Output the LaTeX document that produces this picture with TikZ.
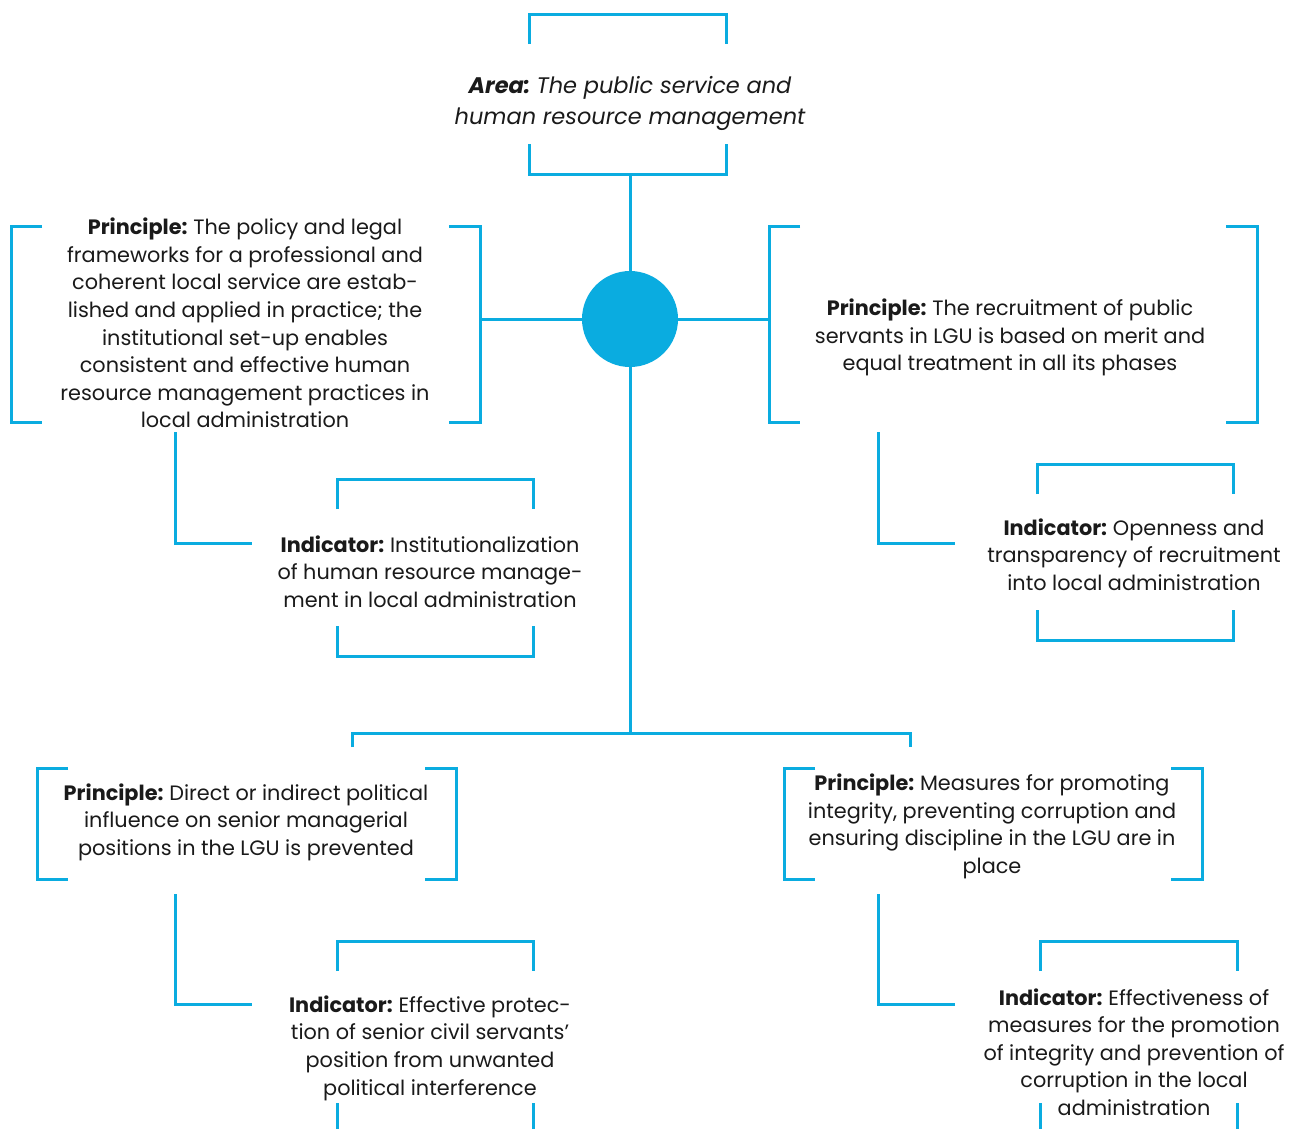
\documentclass[tikz,border=0pt]{standalone}
\usepackage{fontspec}
\setmainfont{Poppins}
\usetikzlibrary{calc}
\definecolor{brand}{HTML}{0AACE0}
\definecolor{ink}{HTML}{1A1A1A}

% bracket pairs drawn on the sides (left/right) or caps (top/bottom) of an empty frame node
\newcommand\sidebrackets[2]{%
  \draw[rule] ([xshift=#2]#1.north west) -- (#1.north west) -- (#1.south west) -- ([xshift=#2]#1.south west);
  \draw[rule] ([xshift=-#2]#1.north east) -- (#1.north east) -- (#1.south east) -- ([xshift=-#2]#1.south east);}
\newcommand\capbrackets[2]{%
  \draw[rule] ([yshift=-#2]#1.north west) -- (#1.north west) -- (#1.north east) -- ([yshift=-#2]#1.north east);
  \draw[rule] ([yshift=#2]#1.south west) -- (#1.south west) -- (#1.south east) -- ([yshift=#2]#1.south east);}
% bold lead-in word with a moderate gap after its colon
\newcommand\leadin[1]{\textbf{#1}\hspace{0.28em}}

\begin{document}
\begin{tikzpicture}[x=1pt, y=-1pt,
  rule/.style={draw=brand, line width=3pt},
  frame/.style={inner sep=0pt, outer sep=0pt},
  label/.style={text=ink, align=center, inner sep=0pt,
    font=\fontsize{20.8}{27.6}\selectfont},
  hubnode/.style={circle, fill=brand, minimum size=96pt, inner sep=0pt}]

\clip (0,0) rectangle (1289,1128);
\fill[white] (0,0) rectangle (1289,1128);

% frames
\node[frame, minimum width=197pt, minimum height=160pt] (Area) at (627.5,94) {};
\node[frame, minimum width=469pt, minimum height=196pt] (P1) at (245.5,324) {};
\node[frame, minimum width=488pt, minimum height=196pt] (P2) at (1013,324) {};
\node[frame, minimum width=196pt, minimum height=177pt] (I1) at (435,567.5) {};
\node[frame, minimum width=196pt, minimum height=176pt] (I2) at (1135,552) {};
\node[frame, minimum width=419pt, minimum height=111pt] (P3) at (246.5,823.5) {};
\node[frame, minimum width=418pt, minimum height=111pt] (P4) at (993,823.5) {};
\node[frame, minimum width=196pt, minimum height=192pt] (I3) at (435,1037) {};
\node[frame, minimum width=197pt, minimum height=192pt] (I4) at (1138.5,1037) {};

\capbrackets{Area}{30}
\sidebrackets{P1}{31}
\sidebrackets{P2}{31}
\capbrackets{I1}{30}
\capbrackets{I2}{30}
\sidebrackets{P3}{31}
\sidebrackets{P4}{31}
\capbrackets{I3}{30}
\capbrackets{I4}{30}

% central hub and its connectors
\node[hubnode] (hub) at (630,319) {};
\coordinate (junction) at (630,733);
\coordinate (dropL) at (352,747);
\coordinate (dropR) at (910,747);
\draw[rule] (hub |- Area.south) -- (hub.north);
\draw[rule] (hub.west) -- (hub.west -| P1.east);
\draw[rule] (hub.east) -- (hub.east -| P2.west);
\draw[rule] (hub.south) -- (junction);
\draw[rule] (dropL) |- (junction) -| (dropR);

% principle-to-indicator elbows
\coordinate (e1s) at (175,432); \coordinate (e1e) at (252,543);
\coordinate (e2s) at (878,432); \coordinate (e2e) at (955,543);
\coordinate (e3s) at (175,894); \coordinate (e3e) at (252,1004);
\coordinate (e4s) at (878,894); \coordinate (e4e) at (955,1004);
\draw[rule] (e1s) |- (e1e);
\draw[rule] (e2s) |- (e2e);
\draw[rule] (e3s) |- (e3e);
\draw[rule] (e4s) |- (e4e);

% texts
\node[label, font=\fontsize{22.5}{31}\selectfont\itshape] (tArea) at (630,103.5)
  {\leadin{Area:}The public service and\\human resource management};
\node[label] (t1) at (245,323)
  {\leadin{Principle:}The policy and legal\\frameworks for a professional and\\coherent local service are estab-\\lished and applied in practice; the\\institutional set-up enables\\consistent and effective human\\resource management practices in\\local administration};
\node[label] (t2) at (1010,337.5)
  {\leadin{Principle:}The recruitment of public\\servants in LGU is based on merit and\\equal treatment in all its phases};
\node[label] (ti1) at (430,571.5)
  {\leadin{Indicator:}Institutionalization\\of human resource manage-\\ment in local administration};
\node[label] (ti2) at (1134,554.5)
  {\leadin{Indicator:}Openness and\\transparency of recruitment\\into local administration};
\node[label] (t3) at (246,822)
  {\leadin{Principle:}Direct or indirect political\\influence on senior managerial\\positions in the LGU is prevented};
\node[label] (t4) at (992,826.5)
  {\leadin{Principle:}Measures for promoting\\integrity, preventing corruption and\\ensuring discipline in the LGU are in\\place};
\node[label] (ti3) at (430,1048)
  {\leadin{Indicator:}Effective protec-\\tion of senior civil servants'\\position from unwanted\\political interference};
\node[label] (ti4) at (1134,1052)
  {\leadin{Indicator:}Effectiveness of\\measures for the promotion\\of integrity and prevention of\\corruption in the local\\administration};
\end{tikzpicture}
\end{document}
